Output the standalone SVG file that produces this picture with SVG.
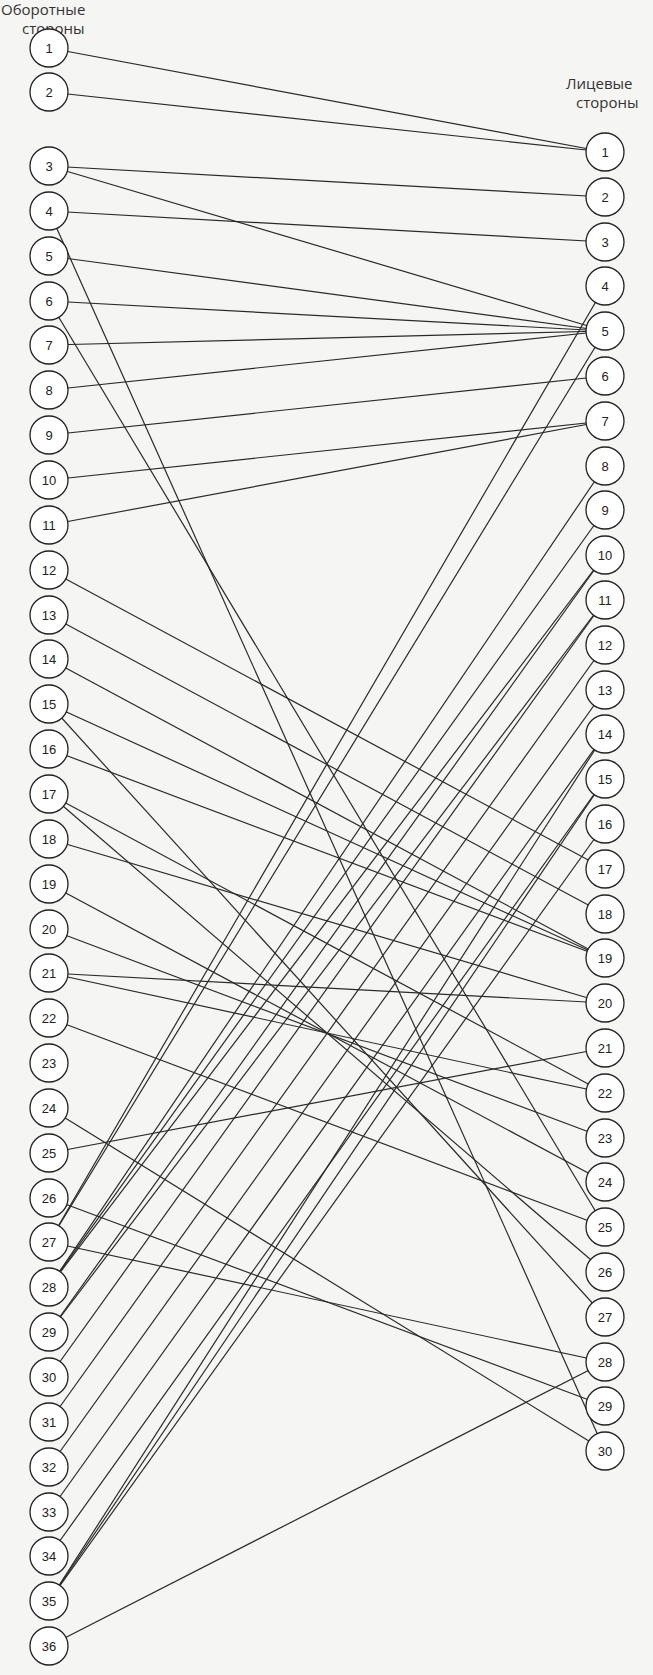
<svg xmlns="http://www.w3.org/2000/svg" width="653" height="1675" viewBox="0 0 653 1675">
<style>
.bg{fill:#f5f5f3}
.ln{stroke:#2a2a2a;stroke-width:1.2;fill:none}
.nd circle{fill:#fff;stroke:#222;stroke-width:1.3}
.nd text{font-family:"Liberation Sans",Arial,sans-serif;font-size:13px;fill:#222;text-anchor:middle}
.hd{font-family:"Open Sans","Liberation Sans",sans-serif;font-size:15px;fill:#333}
</style>
<rect class="bg" x="0" y="0" width="653" height="1675"/>
<text class="hd" x="1" y="15">Оборотные</text>
<text class="hd" x="22" y="34">стороны</text>
<text class="hd" x="566" y="89">Лицевые</text>
<text class="hd" x="576" y="108">стороны</text>
<g id="connectors">
<line class="ln" x1="49" y1="48" x2="605" y2="152"/>
<line class="ln" x1="49" y1="92" x2="605" y2="152"/>
<line class="ln" x1="49" y1="166" x2="605" y2="197"/>
<line class="ln" x1="49" y1="166" x2="605" y2="331"/>
<line class="ln" x1="49" y1="211" x2="605" y2="242"/>
<line class="ln" x1="49" y1="256" x2="605" y2="331"/>
<line class="ln" x1="49" y1="301" x2="605" y2="331"/>
<line class="ln" x1="49" y1="345" x2="605" y2="331"/>
<line class="ln" x1="49" y1="390" x2="605" y2="331"/>
<line class="ln" x1="49" y1="435" x2="605" y2="376"/>
<line class="ln" x1="49" y1="480" x2="605" y2="421"/>
<line class="ln" x1="49" y1="525" x2="605" y2="421"/>
<line class="ln" x1="49" y1="211" x2="605" y2="1451"/>
<line class="ln" x1="49" y1="301" x2="605" y2="1227"/>
<line class="ln" x1="49" y1="570" x2="605" y2="869"/>
<line class="ln" x1="49" y1="615" x2="605" y2="914"/>
<line class="ln" x1="49" y1="659" x2="605" y2="958"/>
<line class="ln" x1="49" y1="704" x2="605" y2="958"/>
<line class="ln" x1="49" y1="704" x2="605" y2="1317"/>
<line class="ln" x1="49" y1="749" x2="605" y2="958"/>
<line class="ln" x1="49" y1="794" x2="605" y2="1093"/>
<line class="ln" x1="49" y1="794" x2="605" y2="1272"/>
<line class="ln" x1="49" y1="839" x2="605" y2="1003"/>
<line class="ln" x1="49" y1="884" x2="605" y2="1182"/>
<line class="ln" x1="49" y1="929" x2="605" y2="1138"/>
<line class="ln" x1="49" y1="973" x2="605" y2="1003"/>
<line class="ln" x1="49" y1="973" x2="605" y2="1093"/>
<line class="ln" x1="49" y1="1018" x2="605" y2="1227"/>
<line class="ln" x1="49" y1="1108" x2="605" y2="1451"/>
<line class="ln" x1="49" y1="1198" x2="605" y2="1406"/>
<line class="ln" x1="49" y1="1242" x2="605" y2="1362"/>
<line class="ln" x1="49" y1="1153" x2="605" y2="1048"/>
<line class="ln" x1="49" y1="1646" x2="605" y2="1362"/>
<line class="ln" x1="49" y1="1242" x2="605" y2="286"/>
<line class="ln" x1="49" y1="1242" x2="605" y2="331"/>
<line class="ln" x1="49" y1="1287" x2="605" y2="466"/>
<line class="ln" x1="49" y1="1287" x2="605" y2="510"/>
<line class="ln" x1="49" y1="1287" x2="605" y2="555"/>
<line class="ln" x1="49" y1="1332" x2="605" y2="555"/>
<line class="ln" x1="49" y1="1332" x2="605" y2="600"/>
<line class="ln" x1="49" y1="1377" x2="605" y2="600"/>
<line class="ln" x1="49" y1="1422" x2="605" y2="645"/>
<line class="ln" x1="49" y1="1467" x2="605" y2="690"/>
<line class="ln" x1="49" y1="1512" x2="605" y2="734"/>
<line class="ln" x1="49" y1="1556" x2="605" y2="779"/>
<line class="ln" x1="49" y1="1601" x2="605" y2="734"/>
<line class="ln" x1="49" y1="1601" x2="605" y2="779"/>
<line class="ln" x1="49" y1="1601" x2="605" y2="824"/>
</g>
<g id="L1" class="nd"><circle cx="49" cy="48" r="19"/><text x="49" y="53">1</text></g>
<g id="L2" class="nd"><circle cx="49" cy="92" r="19"/><text x="49" y="97">2</text></g>
<g id="L3" class="nd"><circle cx="49" cy="166" r="19"/><text x="49" y="171">3</text></g>
<g id="L4" class="nd"><circle cx="49" cy="211" r="19"/><text x="49" y="216">4</text></g>
<g id="L5" class="nd"><circle cx="49" cy="256" r="19"/><text x="49" y="261">5</text></g>
<g id="L6" class="nd"><circle cx="49" cy="301" r="19"/><text x="49" y="306">6</text></g>
<g id="L7" class="nd"><circle cx="49" cy="345" r="19"/><text x="49" y="350">7</text></g>
<g id="L8" class="nd"><circle cx="49" cy="390" r="19"/><text x="49" y="395">8</text></g>
<g id="L9" class="nd"><circle cx="49" cy="435" r="19"/><text x="49" y="440">9</text></g>
<g id="L10" class="nd"><circle cx="49" cy="480" r="19"/><text x="49" y="485">10</text></g>
<g id="L11" class="nd"><circle cx="49" cy="525" r="19"/><text x="49" y="530">11</text></g>
<g id="L12" class="nd"><circle cx="49" cy="570" r="19"/><text x="49" y="575">12</text></g>
<g id="L13" class="nd"><circle cx="49" cy="615" r="19"/><text x="49" y="620">13</text></g>
<g id="L14" class="nd"><circle cx="49" cy="659" r="19"/><text x="49" y="664">14</text></g>
<g id="L15" class="nd"><circle cx="49" cy="704" r="19"/><text x="49" y="709">15</text></g>
<g id="L16" class="nd"><circle cx="49" cy="749" r="19"/><text x="49" y="754">16</text></g>
<g id="L17" class="nd"><circle cx="49" cy="794" r="19"/><text x="49" y="799">17</text></g>
<g id="L18" class="nd"><circle cx="49" cy="839" r="19"/><text x="49" y="844">18</text></g>
<g id="L19" class="nd"><circle cx="49" cy="884" r="19"/><text x="49" y="889">19</text></g>
<g id="L20" class="nd"><circle cx="49" cy="929" r="19"/><text x="49" y="934">20</text></g>
<g id="L21" class="nd"><circle cx="49" cy="973" r="19"/><text x="49" y="978">21</text></g>
<g id="L22" class="nd"><circle cx="49" cy="1018" r="19"/><text x="49" y="1023">22</text></g>
<g id="L23" class="nd"><circle cx="49" cy="1063" r="19"/><text x="49" y="1068">23</text></g>
<g id="L24" class="nd"><circle cx="49" cy="1108" r="19"/><text x="49" y="1113">24</text></g>
<g id="L25" class="nd"><circle cx="49" cy="1153" r="19"/><text x="49" y="1158">25</text></g>
<g id="L26" class="nd"><circle cx="49" cy="1198" r="19"/><text x="49" y="1203">26</text></g>
<g id="L27" class="nd"><circle cx="49" cy="1242" r="19"/><text x="49" y="1247">27</text></g>
<g id="L28" class="nd"><circle cx="49" cy="1287" r="19"/><text x="49" y="1292">28</text></g>
<g id="L29" class="nd"><circle cx="49" cy="1332" r="19"/><text x="49" y="1337">29</text></g>
<g id="L30" class="nd"><circle cx="49" cy="1377" r="19"/><text x="49" y="1382">30</text></g>
<g id="L31" class="nd"><circle cx="49" cy="1422" r="19"/><text x="49" y="1427">31</text></g>
<g id="L32" class="nd"><circle cx="49" cy="1467" r="19"/><text x="49" y="1472">32</text></g>
<g id="L33" class="nd"><circle cx="49" cy="1512" r="19"/><text x="49" y="1517">33</text></g>
<g id="L34" class="nd"><circle cx="49" cy="1556" r="19"/><text x="49" y="1561">34</text></g>
<g id="L35" class="nd"><circle cx="49" cy="1601" r="19"/><text x="49" y="1606">35</text></g>
<g id="L36" class="nd"><circle cx="49" cy="1646" r="19"/><text x="49" y="1651">36</text></g>
<g id="R1" class="nd"><circle cx="605" cy="152" r="19"/><text x="605" y="157">1</text></g>
<g id="R2" class="nd"><circle cx="605" cy="197" r="19"/><text x="605" y="202">2</text></g>
<g id="R3" class="nd"><circle cx="605" cy="242" r="19"/><text x="605" y="247">3</text></g>
<g id="R4" class="nd"><circle cx="605" cy="286" r="19"/><text x="605" y="291">4</text></g>
<g id="R5" class="nd"><circle cx="605" cy="331" r="19"/><text x="605" y="336">5</text></g>
<g id="R6" class="nd"><circle cx="605" cy="376" r="19"/><text x="605" y="381">6</text></g>
<g id="R7" class="nd"><circle cx="605" cy="421" r="19"/><text x="605" y="426">7</text></g>
<g id="R8" class="nd"><circle cx="605" cy="466" r="19"/><text x="605" y="471">8</text></g>
<g id="R9" class="nd"><circle cx="605" cy="510" r="19"/><text x="605" y="515">9</text></g>
<g id="R10" class="nd"><circle cx="605" cy="555" r="19"/><text x="605" y="560">10</text></g>
<g id="R11" class="nd"><circle cx="605" cy="600" r="19"/><text x="605" y="605">11</text></g>
<g id="R12" class="nd"><circle cx="605" cy="645" r="19"/><text x="605" y="650">12</text></g>
<g id="R13" class="nd"><circle cx="605" cy="690" r="19"/><text x="605" y="695">13</text></g>
<g id="R14" class="nd"><circle cx="605" cy="734" r="19"/><text x="605" y="739">14</text></g>
<g id="R15" class="nd"><circle cx="605" cy="779" r="19"/><text x="605" y="784">15</text></g>
<g id="R16" class="nd"><circle cx="605" cy="824" r="19"/><text x="605" y="829">16</text></g>
<g id="R17" class="nd"><circle cx="605" cy="869" r="19"/><text x="605" y="874">17</text></g>
<g id="R18" class="nd"><circle cx="605" cy="914" r="19"/><text x="605" y="919">18</text></g>
<g id="R19" class="nd"><circle cx="605" cy="958" r="19"/><text x="605" y="963">19</text></g>
<g id="R20" class="nd"><circle cx="605" cy="1003" r="19"/><text x="605" y="1008">20</text></g>
<g id="R21" class="nd"><circle cx="605" cy="1048" r="19"/><text x="605" y="1053">21</text></g>
<g id="R22" class="nd"><circle cx="605" cy="1093" r="19"/><text x="605" y="1098">22</text></g>
<g id="R23" class="nd"><circle cx="605" cy="1138" r="19"/><text x="605" y="1143">23</text></g>
<g id="R24" class="nd"><circle cx="605" cy="1182" r="19"/><text x="605" y="1187">24</text></g>
<g id="R25" class="nd"><circle cx="605" cy="1227" r="19"/><text x="605" y="1232">25</text></g>
<g id="R26" class="nd"><circle cx="605" cy="1272" r="19"/><text x="605" y="1277">26</text></g>
<g id="R27" class="nd"><circle cx="605" cy="1317" r="19"/><text x="605" y="1322">27</text></g>
<g id="R28" class="nd"><circle cx="605" cy="1362" r="19"/><text x="605" y="1367">28</text></g>
<g id="R29" class="nd"><circle cx="605" cy="1406" r="19"/><text x="605" y="1411">29</text></g>
<g id="R30" class="nd"><circle cx="605" cy="1451" r="19"/><text x="605" y="1456">30</text></g>
</svg>
